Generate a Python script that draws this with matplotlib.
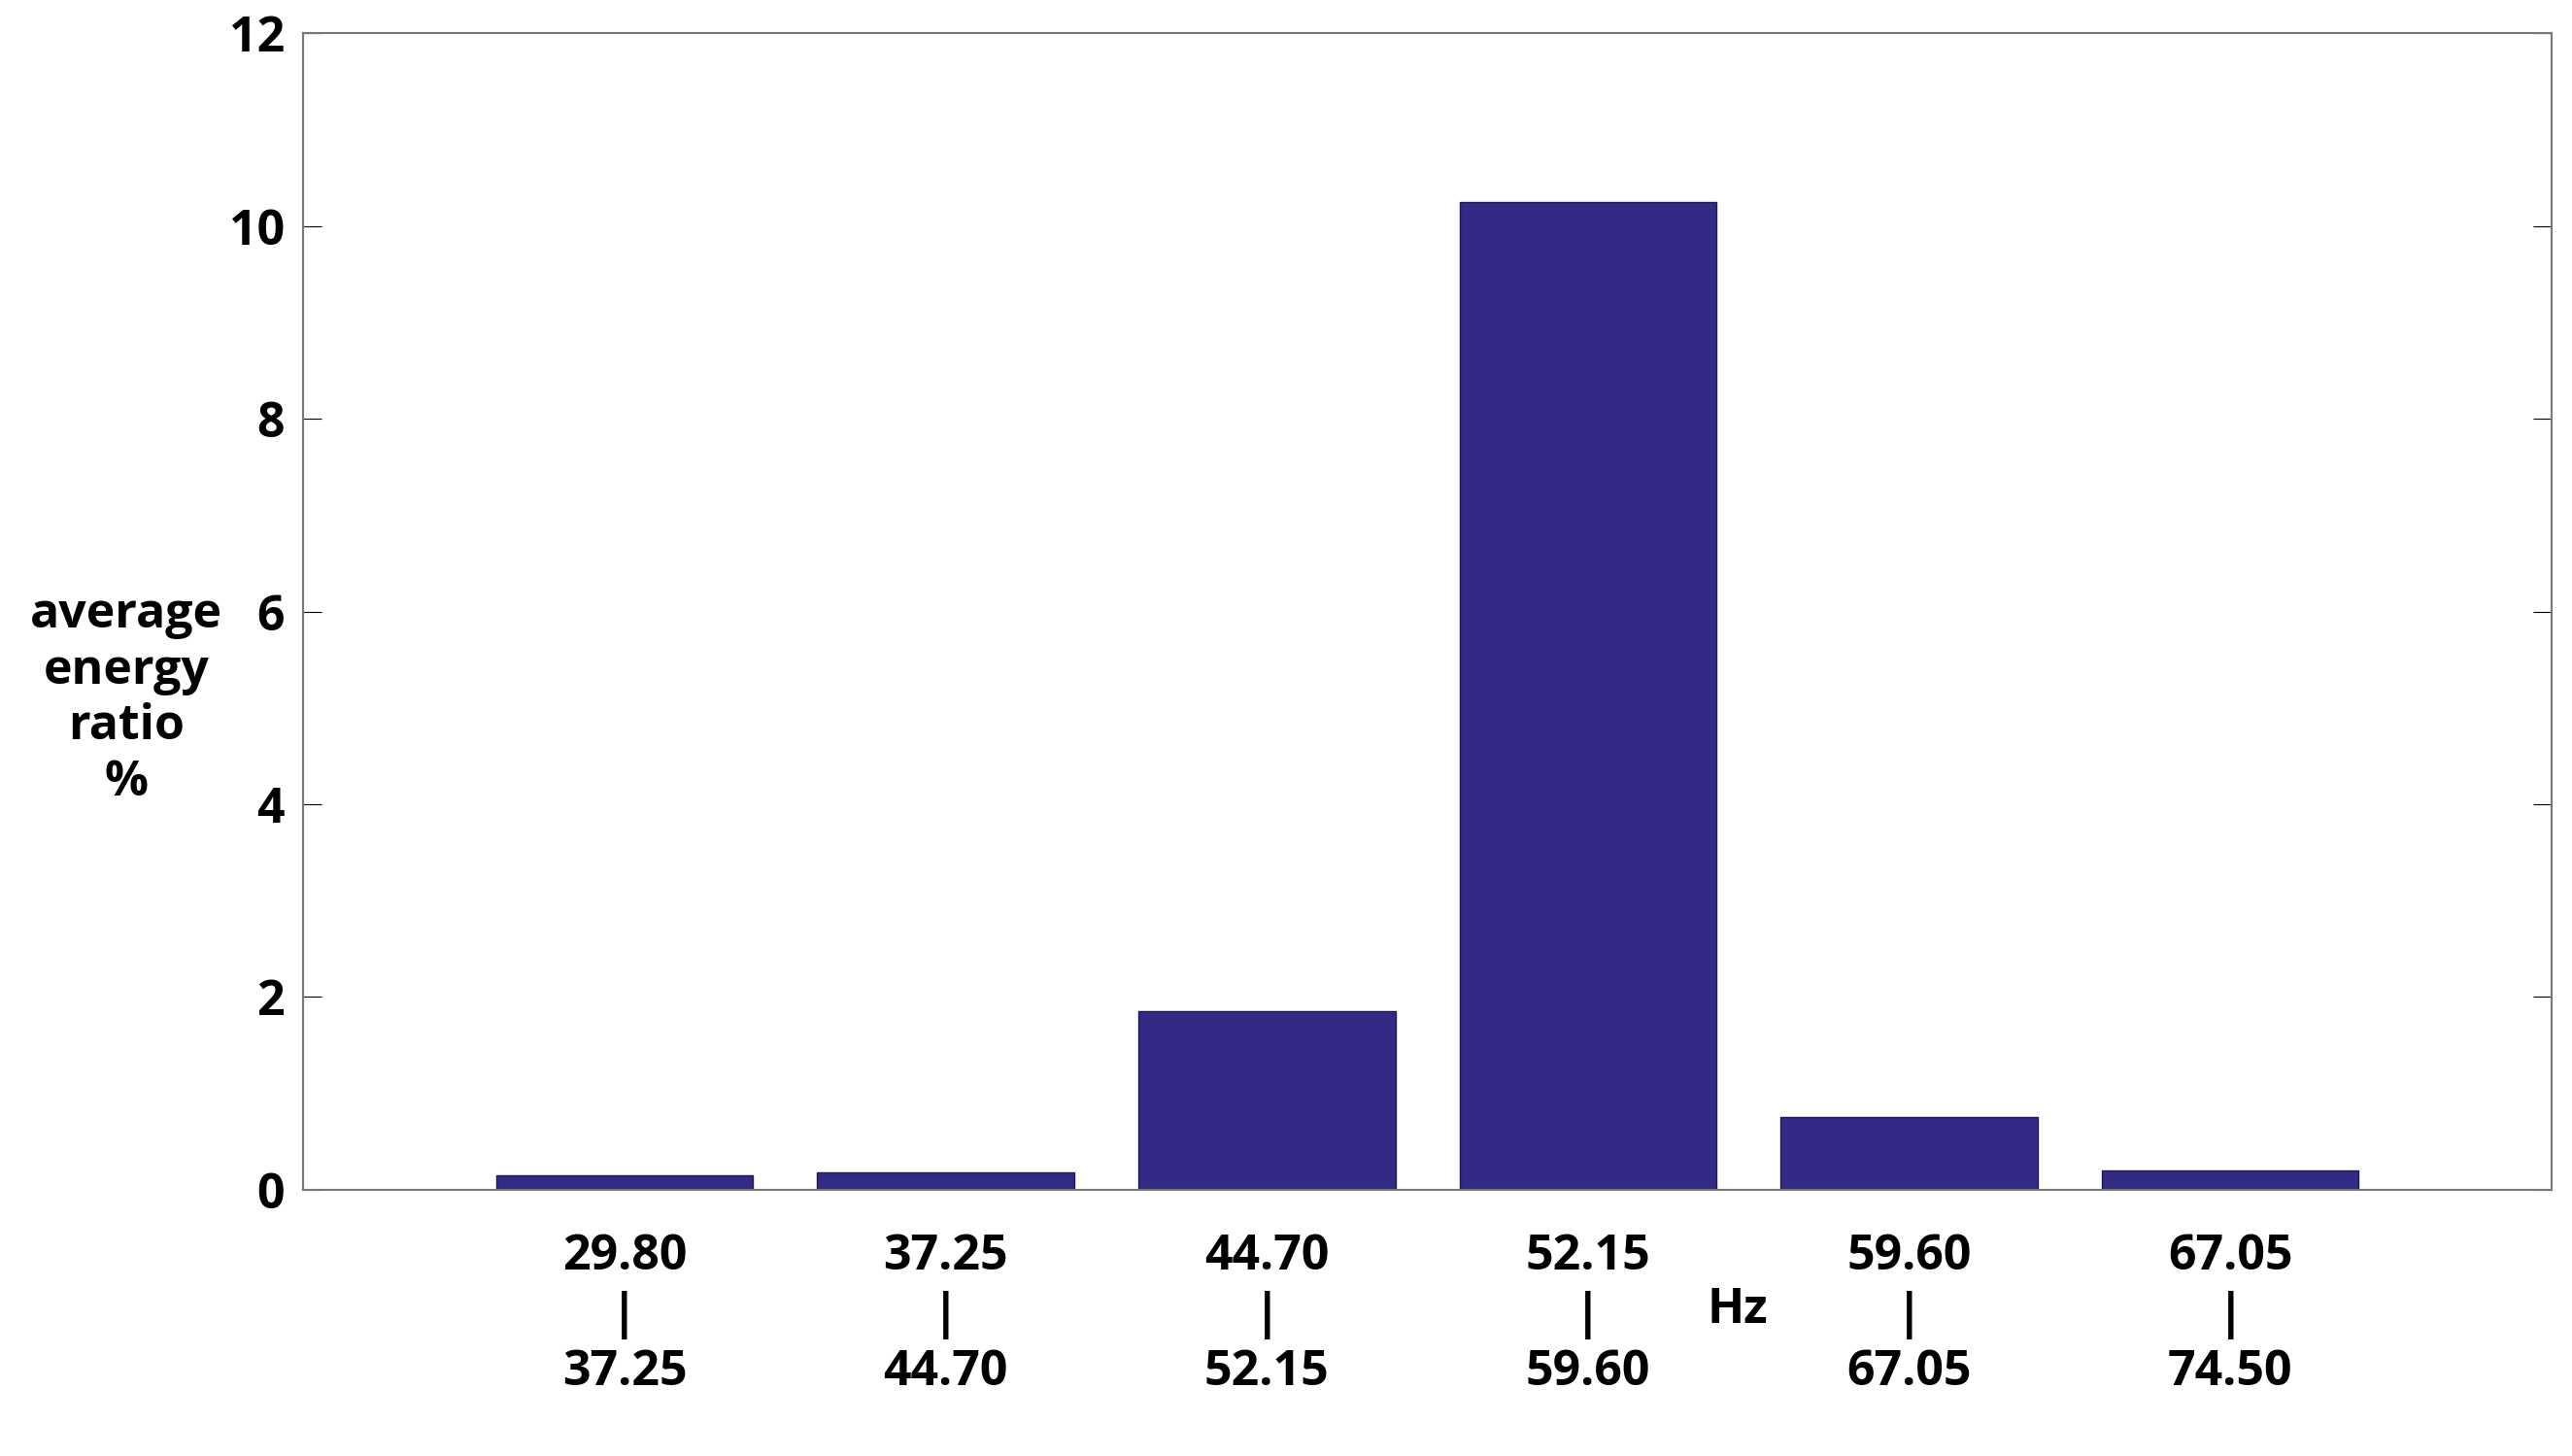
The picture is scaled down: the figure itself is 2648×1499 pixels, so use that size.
import matplotlib
matplotlib.use("Agg")
import matplotlib.pyplot as plt

plt.rcParams['font.family'] = ['Open Sans', 'DejaVu Sans']
plt.rcParams['font.weight'] = 'bold'

bands_lo = ["29.80", "37.25", "44.70", "52.15", "59.60", "67.05"]
bands_hi = ["37.25", "44.70", "52.15", "59.60", "67.05", "74.50"]
ratios = [0.15, 0.18, 1.85, 10.25, 0.75, 0.20]
yticks = [0, 2, 4, 6, 8, 10, 12]

fig = plt.figure(figsize=(26.48, 14.99), dpi=100)
ax = fig.add_axes([0.118, 0.183, 0.874, 0.794])

x = list(range(1, len(ratios) + 1))
ax.bar(x, ratios, width=0.8, color='#332a85', edgecolor='#1f1a55', linewidth=1)
ax.set_xlim(0, 7)
ax.set_ylim(0, 12)
ax.set_yticks(yticks)
ax.set_yticklabels([str(t) for t in yticks], fontsize=36, fontweight='bold')
ax.set_xticks([])
ax.tick_params(axis='y', direction='in', length=14, right=True, pad=14)
for s in ax.spines.values():
    s.set_color('#777777')
    s.set_linewidth(1.5)

# three-line band labels under each bar
for xi, lo, hi in zip(x, bands_lo, bands_hi):
    ax.text(xi, -0.45, lo + "\n|\n" + hi, ha='center', va='top', fontsize=36,
            fontweight='bold', linespacing=1.25)
ax.text(4.37, -1.25, "Hz", ha='left', va='center', fontsize=36, fontweight='bold')

fig.text(0.049, 0.52, "average\nenergy\nratio\n%", ha='center', va='center',
         fontsize=36, fontweight='bold', linespacing=1.2)

fig.savefig("out.png", dpi=100)
